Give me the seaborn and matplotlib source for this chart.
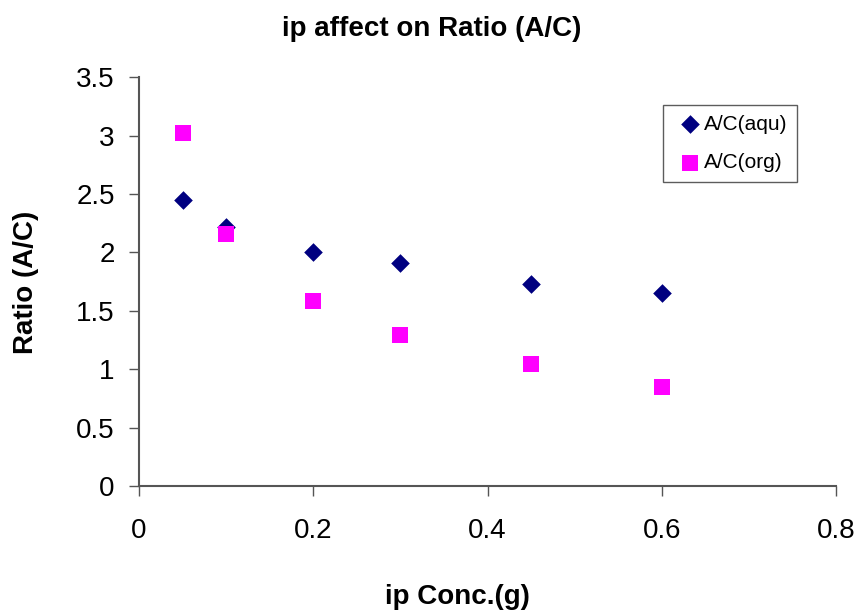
import matplotlib
matplotlib.use("Agg")
import matplotlib.pyplot as plt
import seaborn as sns
import pandas as pd

conc = [0.05, 0.1, 0.2, 0.3, 0.45, 0.6]
ratio_aqu = [2.45, 2.22, 2.00, 1.91, 1.73, 1.65]
ratio_org = [3.02, 2.16, 1.58, 1.29, 1.04, 0.85]
series_names = ["A/C(aqu)", "A/C(org)"]

sns.set_theme(style="white")
plt.rcParams["font.family"] = ["Liberation Sans", "DejaVu Sans"]
plt.rcParams["text.color"] = "black"
plt.rcParams["xtick.color"] = "black"
plt.rcParams["ytick.color"] = "black"

df = pd.DataFrame({
    "x": conc * 2,
    "y": ratio_aqu + ratio_org,
    "series": [series_names[0]] * len(conc) + [series_names[1]] * len(conc),
})

fig = plt.figure(figsize=(8.64, 6.12), dpi=100)
ax = fig.add_axes([0.161, 0.206, 0.8066, 0.668])

sns.scatterplot(data=df[df.series == series_names[0]], x="x", y="y", ax=ax,
                marker="D", color="#000080", s=90, linewidth=0, label=series_names[0])
sns.scatterplot(data=df[df.series == series_names[1]], x="x", y="y", ax=ax,
                marker="s", color="#FF00FF", s=135, linewidth=0, label=series_names[1])

ax.set_xlim(0, 0.8)
ax.set_ylim(0, 3.5)
ax.set_xticks([0, 0.2, 0.4, 0.6, 0.8])
ax.set_xticklabels(["0", "0.2", "0.4", "0.6", "0.8"])
ax.set_yticks([0, 0.5, 1, 1.5, 2, 2.5, 3, 3.5])
ax.set_yticklabels(["0", "0.5", "1", "1.5", "2", "2.5", "3", "3.5"])

for s in ["top", "right"]:
    ax.spines[s].set_visible(False)
for s in ["left", "bottom"]:
    ax.spines[s].set_color("#555555")
    ax.spines[s].set_linewidth(1.5)
ax.tick_params(axis="both", which="major", direction="out", length=7, width=1.0,
               color="#555555", labelsize=20, labelcolor="black",
               left=True, bottom=True)
ax.tick_params(axis="y", pad=10.5)
ax.tick_params(axis="x", pad=16)

ax.set_xlabel("")
ax.set_ylabel("")
fig.text(0.5, 1 - 29 / 612, "ip affect on Ratio (A/C)", fontsize=20,
         fontweight="bold", ha="center", va="center", color="black")
fig.text(457 / 864, 1 - 597 / 612, "ip Conc.(g)", fontsize=20,
         fontweight="bold", ha="center", va="center", color="black")
fig.text(26 / 864, 1 - 282 / 612, "Ratio (A/C)", fontsize=20, rotation=90,
         fontweight="bold", ha="center", va="center", color="black")

leg = ax.legend(loc="upper right", bbox_to_anchor=(0.944, 0.931), borderaxespad=0,
                frameon=True, fancybox=False, fontsize=15, handletextpad=-0.1,
                borderpad=0.45, labelspacing=0.95, handlelength=1.6,
                edgecolor="#333333")
leg.get_frame().set_linewidth(1.0)

fig.savefig("out.png", dpi=100)
